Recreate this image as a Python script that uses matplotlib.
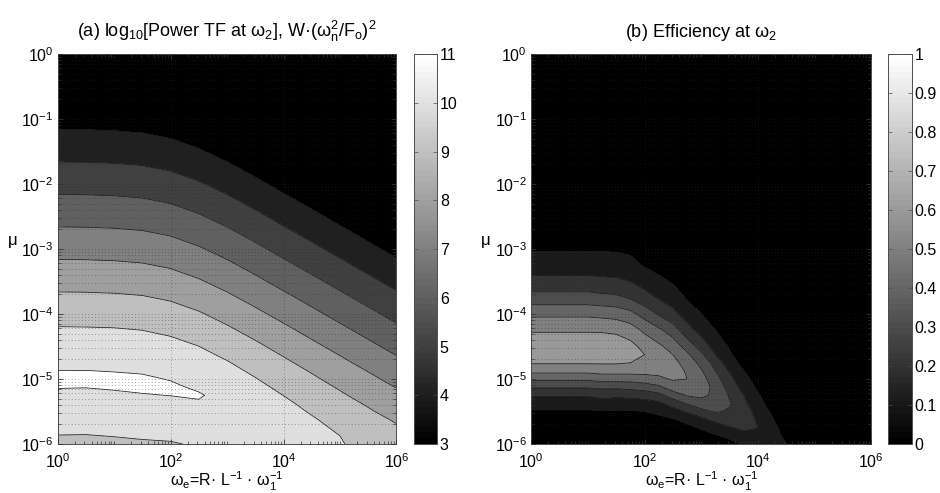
import numpy as np
import matplotlib
matplotlib.use("Agg")
import matplotlib.pyplot as plt
from matplotlib.ticker import FixedLocator, FuncFormatter, NullFormatter
from matplotlib.colors import Normalize
from matplotlib.cm import ScalarMappable

plt.rcParams["font.family"] = ["Liberation Sans", "DejaVu Sans"]
plt.rcParams["mathtext.fontset"] = "custom"
plt.rcParams["mathtext.rm"] = "Liberation Sans"
plt.rcParams["mathtext.it"] = "Liberation Sans:italic"
plt.rcParams["mathtext.bf"] = "Liberation Sans:bold"
plt.rcParams["font.size"] = 12

# grid nodes in decades: log10(omega_e) across, log10(mu) down
log_omega = [0.0, 0.5, 1.0, 1.5, 2.0, 2.5, 3.0, 3.5, 4.0, 4.5, 5.0, 5.5, 6.0]
log_mu = [0.0, -0.5, -1.0, -1.5, -2.0, -2.5, -3.0, -3.5, -3.75, -4.0, -4.25,
          -4.5, -4.625, -4.75, -4.875, -5.0, -5.125, -5.25, -5.375, -5.5,
          -5.625, -5.75, -5.875, -6.0]

# (a) log10 of the power transfer function, one row per log_mu value
power_tf = [
    [1.68, 1.67, 1.64, 1.57, 1.40, 1.09, 0.68, 0.21, -0.29, -0.78, -1.28, -1.78, -2.28],
    [2.68, 2.67, 2.64, 2.57, 2.40, 2.09, 1.68, 1.21, 0.71, 0.22, -0.28, -0.78, -1.28],
    [3.68, 3.67, 3.64, 3.57, 3.40, 3.09, 2.68, 2.21, 1.71, 1.22, 0.72, 0.22, -0.28],
    [4.68, 4.67, 4.64, 4.57, 4.40, 4.09, 3.68, 3.21, 2.71, 2.22, 1.72, 1.22, 0.72],
    [5.68, 5.67, 5.64, 5.57, 5.40, 5.09, 4.68, 4.21, 3.71, 3.22, 2.72, 2.22, 1.72],
    [6.68, 6.67, 6.64, 6.57, 6.40, 6.09, 5.68, 5.21, 4.71, 4.22, 3.72, 3.22, 2.72],
    [7.68, 7.67, 7.64, 7.57, 7.40, 7.09, 6.68, 6.21, 5.71, 5.22, 4.72, 4.22, 3.72],
    [8.68, 8.67, 8.64, 8.57, 8.40, 8.09, 7.68, 7.21, 6.71, 6.22, 5.72, 5.22, 4.72],
    [9.18, 9.17, 9.14, 9.07, 8.90, 8.59, 8.18, 7.71, 7.22, 6.72, 6.22, 5.72, 5.22],
    [9.65, 9.64, 9.61, 9.55, 9.38, 9.09, 8.68, 8.21, 7.72, 7.22, 6.72, 6.22, 5.72],
    [10.10, 10.09, 10.07, 10.00, 9.84, 9.56, 9.16, 8.71, 8.22, 7.72, 7.22, 6.72, 6.22],
    [10.50, 10.49, 10.47, 10.41, 10.27, 10.01, 9.63, 9.18, 8.71, 8.22, 7.72, 7.22, 6.72],
    [10.67, 10.66, 10.65, 10.60, 10.47, 10.21, 9.85, 9.41, 8.94, 8.46, 7.97, 7.47, 6.97],
    [10.85, 10.84, 10.82, 10.78, 10.64, 10.41, 10.06, 9.63, 9.17, 8.70, 8.21, 7.72, 7.22],
    [11.01, 11.01, 10.98, 10.94, 10.82, 10.59, 10.26, 9.84, 9.39, 8.93, 8.45, 7.97, 7.47],
    [11.15, 11.14, 11.13, 11.09, 10.97, 10.76, 10.44, 10.04, 9.60, 9.15, 8.68, 8.21, 7.72],
    [11.02, 11.01, 11.05, 11.10, 11.10, 10.91, 10.61, 10.22, 9.81, 9.36, 8.91, 8.44, 7.97],
    [10.90, 10.89, 10.92, 10.97, 11.01, 11.06, 10.77, 10.39, 9.99, 9.56, 9.12, 8.67, 8.21],
    [10.72, 10.71, 10.76, 10.82, 10.85, 10.94, 10.92, 10.55, 10.17, 9.75, 9.32, 8.90, 8.44],
    [10.55, 10.54, 10.58, 10.64, 10.68, 10.81, 10.85, 10.70, 10.32, 9.92, 9.51, 9.10, 8.67],
    [10.36, 10.35, 10.39, 10.46, 10.50, 10.64, 10.72, 10.64, 10.47, 10.09, 9.69, 9.31, 8.90],
    [10.17, 10.16, 10.20, 10.27, 10.31, 10.46, 10.56, 10.52, 10.45, 10.24, 9.85, 9.48, 9.10],
    [9.98, 9.97, 10.02, 10.08, 10.12, 10.27, 10.38, 10.35, 10.32, 10.24, 10.00, 9.66, 9.31],
    [9.80, 9.79, 9.83, 9.90, 9.94, 10.08, 10.19, 10.18, 10.16, 10.12, 10.04, 9.81, 9.48],
]

# (b) efficiency has its own, finer grid
eff_log_omega = [0.0, 0.5, 1.0, 1.25, 1.5, 1.75, 2.0, 2.25, 2.5, 2.75, 3.0,
                 3.25, 3.5, 3.75, 4.0, 4.25, 4.5, 4.75, 5.0, 5.5, 6.0]
eff_log_mu = [0.0, -1.0, -2.0, -2.5, -3.0, -3.25, -3.5, -3.75, -4.0, -4.25,
              -4.5, -4.625, -4.75, -4.875, -5.0, -5.125, -5.25, -5.375, -5.5,
              -5.625, -5.75, -5.875, -6.0]
efficiency = [
    [0, 0, 0, 0, 0, 0, 0, 0, 0, 0, 0, 0, 0, 0, 0, 0, 0, 0, 0, 0, 0],
    [0, 0, 0, 0, 0, 0, 0, 0, 0, 0, 0, 0, 0, 0, 0, 0, 0, 0, 0, 0, 0],
    [.02, .02, .02, .02, .02, .02, .01, .01, .01, 0, 0, 0, 0, 0, 0, 0, 0, 0, 0, 0, 0],
    [.04, .04, .04, .04, .04, .04, .03, .02, .02, .01, 0, 0, 0, 0, 0, 0, 0, 0, 0, 0, 0],
    [.09, .09, .09, .09, .09, .08, .06, .05, .04, .02, .01, 0, 0, 0, 0, 0, 0, 0, 0, 0, 0],
    [.15, .15, .15, .15, .14, .13, .09, .07, .06, .04, .02, .01, 0, 0, 0, 0, 0, 0, 0, 0, 0],
    [.23, .23, .23, .22, .22, .20, .16, .12, .09, .06, .03, .02, .01, 0, 0, 0, 0, 0, 0, 0, 0],
    [.34, .34, .34, .33, .32, .29, .24, .19, .15, .09, .06, .03, .02, .01, 0, 0, 0, 0, 0, 0, 0],
    [.48, .48, .48, .47, .46, .43, .36, .29, .23, .15, .10, .05, .03, .01, .01, 0, 0, 0, 0, 0, 0],
    [.59, .59, .59, .59, .58, .55, .48, .42, .35, .24, .16, .10, .05, .02, .01, 0, 0, 0, 0, 0, 0],
    [.67, .67, .67, .66, .66, .63, .57, .52, .46, .36, .26, .16, .09, .04, .02, 0, 0, 0, 0, 0, 0],
    [.64, .64, .64, .64, .64, .63, .60, .56, .50, .42, .32, .20, .11, .05, .02, 0, 0, 0, 0, 0, 0],
    [.61, .61, .61, .61, .61, .60, .57, .56, .53, .46, .37, .26, .14, .07, .03, .01, 0, 0, 0, 0, 0],
    [.53, .53, .53, .54, .54, .54, .54, .53, .54, .49, .41, .30, .19, .10, .04, .01, 0, 0, 0, 0, 0],
    [.42, .42, .42, .44, .44, .44, .45, .48, .51, .50, .44, .34, .23, .13, .06, .02, 0, 0, 0, 0, 0],
    [.31, .31, .31, .32, .32, .33, .35, .38, .45, .47, .45, .37, .26, .16, .08, .02, 0, 0, 0, 0, 0],
    [.21, .21, .21, .23, .22, .23, .24, .27, .35, .41, .42, .38, .29, .20, .11, .03, 0, 0, 0, 0, 0],
    [.14, .14, .14, .16, .15, .15, .16, .18, .24, .31, .36, .36, .31, .22, .14, .05, 0, 0, 0, 0, 0],
    [.09, .09, .09, .09, .09, .09, .10, .12, .16, .21, .27, .31, .29, .24, .17, .08, .01, 0, 0, 0, 0],
    [.06, .06, .06, .07, .06, .06, .07, .07, .09, .13, .17, .23, .26, .24, .19, .11, .02, .01, 0, 0, 0],
    [.04, .04, .04, .04, .04, .04, .04, .05, .06, .07, .11, .14, .19, .22, .20, .14, .04, .01, 0, 0, 0],
    [.03, .03, .03, .03, .03, .03, .03, .03, .04, .05, .06, .09, .12, .17, .19, .15, .07, .02, .01, 0, 0],
    [.02, .02, .02, .02, .02, .02, .02, .02, .03, .03, .04, .05, .07, .11, .16, .14, .10, .04, .01, 0, 0],
]

power_lines = [4, 5, 6, 7, 8, 9, 10, 11]
power_ticks = [3, 4, 5, 6, 7, 8, 9, 10, 11]
eff_lines = [0.1, 0.2, 0.3, 0.4, 0.5, 0.6, 0.7, 0.8, 0.9]
eff_ticks = [0, 0.1, 0.2, 0.3, 0.4, 0.5, 0.6, 0.7, 0.8, 0.9, 1]
eff_tick_text = ["0", "0.1", "0.2", "0.3", "0.4", "0.5", "0.6", "0.7", "0.8",
                 "0.9", "1"]


def decade_label(v, pos):
    return r"$\mathdefault{10^{%d}}$" % int(round(v))


def style_axes(ax):
    ax.set_xlim(0, 6)
    ax.set_ylim(-6, 0)
    xmajor = [0, 2, 4, 6]
    minor_x = [n + np.log10(k) for n in range(6) for k in range(1, 10)]
    minor_x = [m for m in minor_x if round(m, 6) not in xmajor]
    minor_y = [n + np.log10(k) for n in range(-6, 0) for k in range(2, 10)]
    ax.xaxis.set_major_locator(FixedLocator(xmajor))
    ax.xaxis.set_minor_locator(FixedLocator(minor_x))
    ax.yaxis.set_major_locator(FixedLocator(range(-6, 1)))
    ax.yaxis.set_minor_locator(FixedLocator(minor_y))
    ax.xaxis.set_major_formatter(FuncFormatter(decade_label))
    ax.yaxis.set_major_formatter(FuncFormatter(decade_label))
    ax.xaxis.set_minor_formatter(NullFormatter())
    ax.yaxis.set_minor_formatter(NullFormatter())
    ax.tick_params(which="both", direction="in", top=True, right=True,
                   labelsize=11.5, color="0.2")
    ax.tick_params(which="major", length=3.5, width=0.6)
    ax.tick_params(which="minor", length=2, width=0.5)
    ax.tick_params(axis="x", pad=6)
    ax.tick_params(axis="y", pad=3)
    # dotted grid: decades on x, full minor grid on mu
    ax.grid(True, axis="x", which="major", linestyle=(0, (1, 3)),
            linewidth=0.6, color="0.15", alpha=0.55)
    ax.grid(True, axis="y", which="both", linestyle=(0, (1, 3)),
            linewidth=0.6, color="0.15", alpha=0.55)
    ax.set_axisbelow(False)
    for sp in ax.spines.values():
        sp.set_color("0.3")
        sp.set_linewidth(0.7)
    ax.set_xlabel(r"ω$_\mathrm{e}$=R· L$^{-1}$ · ω$_{1}^{-1}$", fontsize=11.5)
    ax.xaxis.set_label_coords(0.5, -0.066)
    ax.set_ylabel("μ", rotation=0, ha="center", va="center", fontsize=12)
    ax.yaxis.set_label_coords(-0.133, 0.523)


def style_cbar(cb, cax):
    cax.tick_params(direction="in", left=True, right=True, length=3,
                    width=0.5, color="0.3", labelsize=11.5, pad=2)
    cb.outline.set_edgecolor("0.3")
    cb.outline.set_linewidth(0.7)


fig = plt.figure(figsize=(9.4, 4.93), dpi=100)
ax_a = fig.add_axes([0.0612, 0.0994, 0.3606, 0.791])
cax_a = fig.add_axes([0.4404, 0.0994, 0.0245, 0.791])
ax_b = fig.add_axes([0.5652, 0.0994, 0.3617, 0.791])
cax_b = fig.add_axes([0.9447, 0.0994, 0.0255, 0.791])

gray64 = plt.get_cmap("gray", 64)

# (a) power transfer function; each band takes the grey of its lower level
fill_a = [-10] + power_lines + [20]
shade_a = [str(round((lv - 3) / 8, 3)) for lv in [3] + power_lines]
ax_a.contourf(log_omega, log_mu, power_tf, levels=fill_a, colors=shade_a)
ax_a.contour(log_omega, log_mu, power_tf, levels=power_lines,
             colors="0.1", linewidths=0.55)
style_axes(ax_a)
ax_a.set_title(r"(a) log$_{10}$[Power TF at ω$_{2}$], "
               r"W·(ω$_\mathrm{n}^{2}$/F$_\mathrm{o}$)$^{2}$",
               pad=12, fontsize=13)

cb_a = fig.colorbar(ScalarMappable(norm=Normalize(3, 11), cmap=gray64),
                    cax=cax_a, ticks=power_ticks)
style_cbar(cb_a, cax_a)

# (b) efficiency
fill_b = [-1] + eff_lines + [1.0, 2.0]
shade_b = [str(round(lv, 3)) for lv in [0] + eff_lines + [1.0]]
ax_b.contourf(eff_log_omega, eff_log_mu, efficiency, levels=fill_b,
              colors=shade_b)
ax_b.contour(eff_log_omega, eff_log_mu, efficiency, levels=eff_lines,
             colors="0.1", linewidths=0.55)
style_axes(ax_b)
ax_b.set_title(r"(b) Efficiency at ω$_{2}$", pad=12, fontsize=13)

cb_b = fig.colorbar(ScalarMappable(norm=Normalize(0, 1), cmap=gray64),
                    cax=cax_b, ticks=eff_ticks)
cb_b.ax.set_yticklabels(eff_tick_text)
style_cbar(cb_b, cax_b)

fig.savefig("out.png", dpi=100)
plt.close(fig)
